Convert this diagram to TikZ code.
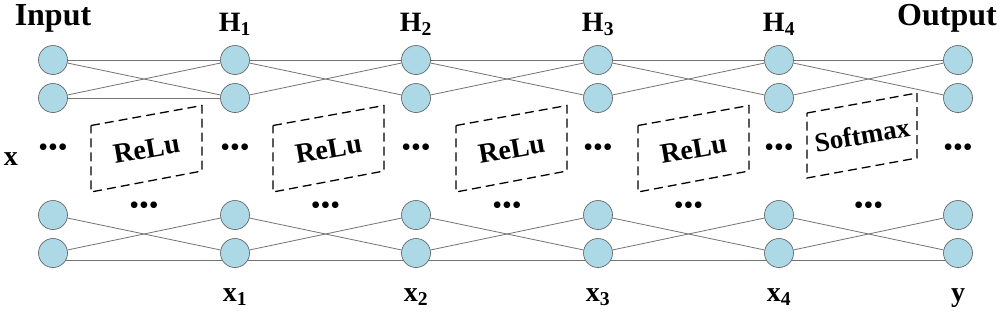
\documentclass[tikz,border=0pt]{standalone}
\usepackage{fontspec}
\setmainfont{Liberation Serif}
\usetikzlibrary{positioning,calc}
\definecolor{neuronblue}{RGB}{173,216,230}

\begin{document}
\begin{tikzpicture}[
  x = 1pt, y = -1pt,
  neuron/.style = {circle, draw=black!65, fill=neuronblue,
                   minimum size=29pt, inner sep=0pt, line width=0.6pt},
  link/.style   = {draw=black!55, line width=0.8pt},
  actbox/.style = {draw, dash pattern=on 9pt off 5pt, line width=1.3pt},
  acttext/.style = {font=\bfseries\fontsize{28}{30}\selectfont, rotate=9.7,
                    inner sep=0pt},
  title/.style  = {font=\bfseries\fontsize{32}{34}\selectfont, anchor=base},
  lbl/.style    = {font=\bfseries\fontsize{28}{30}\selectfont, anchor=base},
  dots/.style   = {font=\fontsize{28}{30}\selectfont, inner sep=0pt}
]
\useasboundingbox (0,0) rectangle (1000,311);

% neurons, four per layer
\foreach \x [count=\i from 0] in {53,235,416,598,779,958} {
  \node[neuron] (n\i-1) at (\x,60)  {};
  \node[neuron] (n\i-2) at (\x,98)  {};
  \node[neuron] (n\i-3) at (\x,215) {};
  \node[neuron] (n\i-4) at (\x,253) {};
  \node[dots]   (d\i)   at (\x,150) {•••};
}

% links between neighbouring layers
\foreach \i [evaluate=\i as \j using int(\i+1)] in {0,...,4} {
  \draw[link] (n\i-1) -- (n\j-1);
  \draw[link] (n\i-1) -- (n\j-2);
  \draw[link] (n\i-2) -- (n\j-1);
  \draw[link] (n\i-3) -- (n\j-4);
  \draw[link] (n\i-4) -- (n\j-3);
  \draw[link] (n\i-4.-30) -- (n\j-4.-150);
  \node[dots] (m\i) at ($(n\i-3)!0.5!(n\j-3)+(0,-7)$) {•••};
}
\draw[link] (n0-2) -- (n1-2);

% activation boxes
\foreach \l/\name in {91/a1, 273/a2, 456/a3, 638/a4} {
  \draw[actbox] (\l,125.5) -- (\l+111,105.5) -- (\l+111,171) -- (\l,192) -- cycle;
  \node[acttext] (\name) at (\l+55.5,149) {ReLu};
}
\draw[actbox] (807,113) -- (917,93) -- (917,158) -- (807,178) -- cycle;
\node[acttext, font=\bfseries\fontsize{27}{29}\selectfont] (a5) at (862,135) {Softmax};

% layer labels
\node[title] (lin)  at (53,25)  {Input};
\node[title] (lout) at (947,25) {Output};
\node[lbl] (lh1) at (235,31) {H\textsubscript{1}};
\node[lbl] (lh2) at (416,31) {H\textsubscript{2}};
\node[lbl] (lh3) at (598,31) {H\textsubscript{3}};
\node[lbl] (lh4) at (779,31) {H\textsubscript{4}};
\node[lbl] (lx)  at (11,165)  {x};
\node[lbl] (lx1) at (235,301) {x\textsubscript{1}};
\node[lbl] (lx2) at (416,301) {x\textsubscript{2}};
\node[lbl] (lx3) at (598,301) {x\textsubscript{3}};
\node[lbl] (lx4) at (779,301) {x\textsubscript{4}};
\node[lbl] (ly)  at (958,301) {y};
\end{tikzpicture}
\end{document}
